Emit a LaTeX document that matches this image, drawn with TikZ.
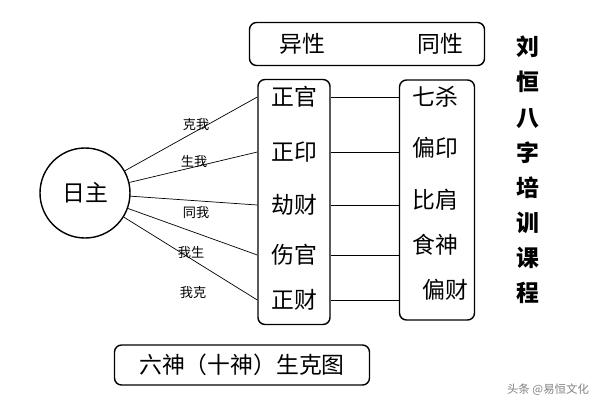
\documentclass[tikz,border=0pt]{standalone}
\usepackage{fontspec}
\newfontfamily\cjk{Noto Sans CJK SC}
\usetikzlibrary{positioning}
\tikzset{
  box/.style={draw, thick, rounded corners=4pt},
  word/.style={font=\cjk\fontsize{13}{13}\selectfont},
  tag/.style={font=\cjk\fontsize{7.5}{8}\selectfont, inner sep=1pt},
}
\begin{document}
\begin{tikzpicture}[x=0.2mm,y=-0.2mm]
\useasboundingbox (0,0) rectangle (600,400);

	\node [box, minimum width=47mm, minimum height=8.6mm] (top) at (367,44) {};%异性同性
	\node [word] (yi) at (302,44) {异性};
	\node [word] (tong) at (440,44) {同性};

	\node [draw, thick, circle, minimum size=18mm, word] (ri) at (85,193) {日主};%日主

	\node [box, minimum width=14.4mm, minimum height=49mm] (lbox) at (294,202) {};%左框
	\node [box, minimum width=15mm, minimum height=48mm] (rbox) at (437,200) {};%右框

	\node [word] (l1) at (294,97) {正官};
	\node [word] (l2) at (294,152) {正印};
	\node [word] (l3) at (294,205) {劫财};
	\node [word] (l4) at (294,255) {伤官};
	\node [word] (l5) at (294,300) {正财};
	\node [word] (r1) at (435,97) {七杀};
	\node [word] (r2) at (435,148) {偏印};
	\node [word] (r3) at (435,200) {比肩};
	\node [word] (r4) at (435,245) {食神};
	\node [word] (r5) at (445,290) {偏财};

	\foreach \i in {1,...,5}
	{
	\draw (lbox.west |- l\i.west) -- (ri);%日主连线
	\draw (lbox.east |- l\i.west) -- (rbox.west |- l\i.west);%横线
	}

	\node [tag] (k1) at (196,124) {克我};
	\node [tag] (k2) at (194,162) {生我};
	\node [tag] (k3) at (196,213) {同我};
	\node [tag] (k4) at (191,253) {我生};
	\node [tag] (k5) at (193,292) {我克};

	\node [font=\cjk\bfseries\fontsize{13}{20}\selectfont, align=center] (side) at (528,170)
	  {刘\\恒\\八\\字\\培\\训\\课\\程};%竖排

	\node [box, minimum width=51mm, minimum height=8mm] (bot) at (242,365) {};
	\node [word] (title) at (242,365) {六神（十神）生克图};
	\node [font=\cjk\fontsize{6.5}{7}\selectfont, gray] (mark) at (548,390) {头条 @易恒文化};
\end{tikzpicture}
\end{document}
